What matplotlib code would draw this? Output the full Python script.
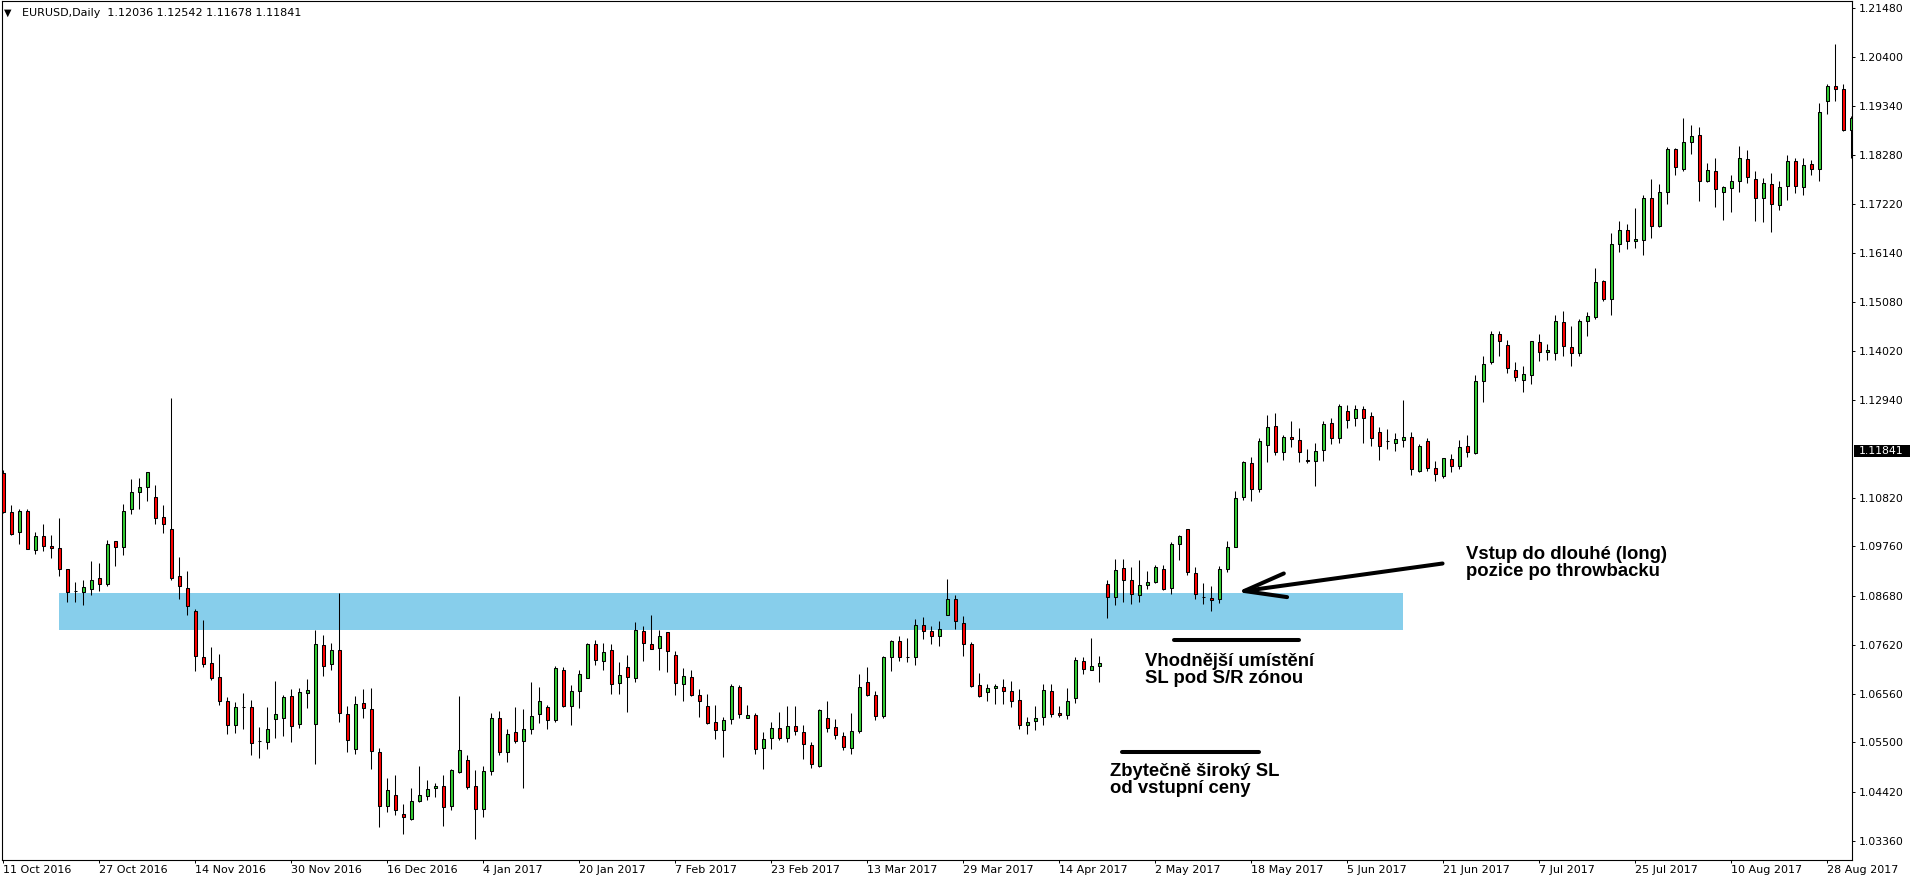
import matplotlib
matplotlib.use('Agg')
import matplotlib.pyplot as plt
from matplotlib.patches import Rectangle
from matplotlib.transforms import blended_transform_factory

# Denni svicky EURUSD (open, high, low, close)
opens = [
    1.1135, 1.1052, 1.1008, 1.1054, 1.0968, 1.0998, 1.0978, 1.0972, 1.0926, 1.0880,
    1.0876, 1.0884, 1.0907, 1.0895, 1.0987, 1.0974, 1.1057, 1.1094, 1.1105, 1.1083,
    1.1041, 1.1015, 1.0911, 1.0885, 1.0836, 1.0735, 1.0722, 1.0693, 1.0640, 1.0588,
    1.0626, 1.0626, 1.0552, 1.0550, 1.0600, 1.0602, 1.0650, 1.0589, 1.0657, 1.0589,
    1.0761, 1.0720, 1.0750, 1.0611, 1.0535, 1.0635, 1.0622, 1.0529, 1.0411, 1.0435,
    1.0394, 1.0383, 1.0422, 1.0433, 1.0450, 1.0455, 1.0411, 1.0485, 1.0511, 1.0455,
    1.0405, 1.0487, 1.0602, 1.0528, 1.0572, 1.0552, 1.0578, 1.0611, 1.0626, 1.0598,
    1.0708, 1.0628, 1.0661, 1.0691, 1.0763, 1.0726, 1.0750, 1.0680, 1.0713, 1.0691,
    1.0793, 1.0765, 1.0756, 1.0789, 1.0741, 1.0676, 1.0693, 1.0654, 1.0630, 1.0595,
    1.0576, 1.0600, 1.0670, 1.0604, 1.0609, 1.0537, 1.0559, 1.0581, 1.0559, 1.0585,
    1.0572, 1.0544, 1.0498, 1.0602, 1.0583, 1.0563, 1.0537, 1.0574, 1.0681, 1.0652,
    1.0607, 1.0735, 1.0770, 1.0736, 1.0735, 1.0805, 1.0792, 1.0781, 1.0826, 1.0861,
    1.0809, 1.0763, 1.0674, 1.0659, 1.0668, 1.0670, 1.0661, 1.0643, 1.0587, 1.0596,
    1.0605, 1.0661, 1.0613, 1.0609, 1.0646, 1.0726, 1.0707, 1.0716, 1.0894, 1.0866,
    1.0929, 1.0903, 1.0870, 1.0892, 1.0898, 1.0927, 1.0885, 1.0981, 1.1014, 1.0918,
    1.0867, 1.0865, 1.0861, 1.0928, 1.0974, 1.1083, 1.1157, 1.1100, 1.1196, 1.1239,
    1.1181, 1.1215, 1.1207, 1.1165, 1.1163, 1.1185, 1.1244, 1.1213, 1.1270, 1.1255,
    1.1276, 1.1259, 1.1224, 1.1205, 1.1202, 1.1207, 1.1215, 1.1141, 1.1205, 1.1146,
    1.1129, 1.1166, 1.1150, 1.1194, 1.1179, 1.1335, 1.1377, 1.1438, 1.1414, 1.1359,
    1.1338, 1.1348, 1.1420, 1.1398, 1.1396, 1.1464, 1.1409, 1.1396, 1.1466, 1.1475,
    1.1553, 1.1514, 1.1634, 1.1664, 1.1641, 1.1642, 1.1733, 1.1674, 1.1748, 1.1840,
    1.1798, 1.1855, 1.1870, 1.1772, 1.1792, 1.1748, 1.1755, 1.1770, 1.1818, 1.1775,
    1.1733, 1.1764, 1.1718, 1.1759, 1.1814, 1.1757, 1.1807, 1.1798, 1.1944, 1.1977,
    1.1970, 1.1881,
]
highs = [
    1.1142, 1.1066, 1.1057, 1.1057, 1.1007, 1.1024, 1.1002, 1.1037, 1.0928, 1.0899,
    1.0903, 1.0944, 1.0940, 1.0990, 1.0987, 1.1068, 1.1123, 1.1125, 1.1137, 1.1109,
    1.1066, 1.1298, 1.0953, 1.0922, 1.0839, 1.0816, 1.0757, 1.0743, 1.0648, 1.0637,
    1.0658, 1.0642, 1.0584, 1.0627, 1.0684, 1.0653, 1.0666, 1.0668, 1.0688, 1.0795,
    1.0784, 1.0766, 1.0875, 1.0629, 1.0650, 1.0666, 1.0668, 1.0537, 1.0472, 1.0479,
    1.0416, 1.0450, 1.0498, 1.0468, 1.0461, 1.0479, 1.0492, 1.0650, 1.0522, 1.0490,
    1.0498, 1.0613, 1.0619, 1.0580, 1.0626, 1.0622, 1.0682, 1.0671, 1.0632, 1.0717,
    1.0713, 1.0674, 1.0708, 1.0767, 1.0772, 1.0767, 1.0763, 1.0724, 1.0739, 1.0811,
    1.0804, 1.0826, 1.0795, 1.0789, 1.0748, 1.0711, 1.0708, 1.0665, 1.0656, 1.0632,
    1.0606, 1.0678, 1.0674, 1.0631, 1.0613, 1.0572, 1.0594, 1.0615, 1.0628, 1.0628,
    1.0587, 1.0550, 1.0622, 1.0639, 1.0600, 1.0572, 1.0613, 1.0698, 1.0713, 1.0661,
    1.0737, 1.0772, 1.0781, 1.0776, 1.0818, 1.0822, 1.0802, 1.0815, 1.0905, 1.0870,
    1.0824, 1.0768, 1.0700, 1.0678, 1.0678, 1.0687, 1.0683, 1.0665, 1.0605, 1.0628,
    1.0676, 1.0676, 1.0628, 1.0668, 1.0735, 1.0735, 1.0776, 1.0737, 1.0903, 1.0948,
    1.0948, 1.0931, 1.0946, 1.0922, 1.0935, 1.0935, 1.0985, 1.1002, 1.1014, 1.0931,
    1.0896, 1.0891, 1.0933, 1.0987, 1.1096, 1.1161, 1.1170, 1.1211, 1.1261, 1.1266,
    1.1218, 1.1248, 1.1233, 1.1187, 1.1202, 1.1250, 1.1255, 1.1285, 1.1283, 1.1283,
    1.1281, 1.1268, 1.1235, 1.1231, 1.1222, 1.1294, 1.1226, 1.1200, 1.1211, 1.1163,
    1.1168, 1.1177, 1.1207, 1.1218, 1.1348, 1.1390, 1.1444, 1.1444, 1.1425, 1.1377,
    1.1368, 1.1422, 1.1438, 1.1416, 1.1479, 1.1488, 1.1455, 1.1470, 1.1485, 1.1581,
    1.1555, 1.1658, 1.1683, 1.1678, 1.1712, 1.1740, 1.1775, 1.1764, 1.1844, 1.1842,
    1.1909, 1.1892, 1.1888, 1.1811, 1.1822, 1.1761, 1.1783, 1.1846, 1.1838, 1.1792,
    1.1777, 1.1788, 1.1772, 1.1827, 1.1822, 1.1822, 1.1816, 1.1940, 1.1983, 1.2068,
    1.1983, 1.1912,
]
lows = [
    1.1048, 1.1001, 1.0982, 1.0970, 1.0960, 1.0967, 1.0952, 1.0912, 1.0856, 1.0856,
    1.0849, 1.0871, 1.0880, 1.0891, 1.0934, 1.0958, 1.1047, 1.1058, 1.1076, 1.1025,
    1.1005, 1.0903, 1.0862, 1.0828, 1.0706, 1.0713, 1.0686, 1.0632, 1.0569, 1.0570,
    1.0580, 1.0523, 1.0515, 1.0536, 1.0560, 1.0563, 1.0550, 1.0582, 1.0624, 1.0504,
    1.0695, 1.0708, 1.0595, 1.0528, 1.0524, 1.0602, 1.0493, 1.0365, 1.0398, 1.0391,
    1.0350, 1.0381, 1.0420, 1.0424, 1.0431, 1.0369, 1.0402, 1.0483, 1.0448, 1.0339,
    1.0387, 1.0478, 1.0522, 1.0508, 1.0548, 1.0451, 1.0569, 1.0593, 1.0578, 1.0595,
    1.0626, 1.0587, 1.0624, 1.0691, 1.0719, 1.0708, 1.0656, 1.0656, 1.0617, 1.0682,
    1.0726, 1.0754, 1.0708, 1.0704, 1.0654, 1.0639, 1.0650, 1.0606, 1.0591, 1.0558,
    1.0519, 1.0589, 1.0604, 1.0602, 1.0524, 1.0491, 1.0535, 1.0555, 1.0550, 1.0565,
    1.0513, 1.0494, 1.0496, 1.0572, 1.0557, 1.0533, 1.0524, 1.0570, 1.0650, 1.0598,
    1.0602, 1.0705, 1.0726, 1.0724, 1.0718, 1.0774, 1.0765, 1.0759, 1.0826, 1.0796,
    1.0737, 1.0670, 1.0648, 1.0641, 1.0633, 1.0633, 1.0626, 1.0578, 1.0568, 1.0576,
    1.0587, 1.0605, 1.0605, 1.0600, 1.0635, 1.0698, 1.0707, 1.0681, 1.0820, 1.0848,
    1.0855, 1.0850, 1.0855, 1.0883, 1.0896, 1.0881, 1.0872, 1.0946, 1.0913, 1.0861,
    1.0850, 1.0836, 1.0854, 1.0920, 1.0974, 1.1078, 1.1074, 1.1094, 1.1159, 1.1174,
    1.1165, 1.1192, 1.1159, 1.1158, 1.1107, 1.1163, 1.1200, 1.1202, 1.1233, 1.1239,
    1.1202, 1.1194, 1.1165, 1.1189, 1.1183, 1.1192, 1.1131, 1.1137, 1.1141, 1.1118,
    1.1126, 1.1137, 1.1144, 1.1170, 1.1177, 1.1290, 1.1372, 1.1390, 1.1353, 1.1335,
    1.1311, 1.1329, 1.1379, 1.1381, 1.1381, 1.1390, 1.1368, 1.1390, 1.1433, 1.1470,
    1.1509, 1.1479, 1.1617, 1.1622, 1.1625, 1.1611, 1.1648, 1.1670, 1.1722, 1.1783,
    1.1792, 1.1829, 1.1727, 1.1768, 1.1714, 1.1687, 1.1703, 1.1746, 1.1767, 1.1685,
    1.1681, 1.1661, 1.1707, 1.1729, 1.1744, 1.1740, 1.1783, 1.1772, 1.1916, 1.1944,
    1.1879, 1.1822,
]
closes = [
    1.1052, 1.1004, 1.1054, 1.0970, 1.0998, 1.0978, 1.0972, 1.0926, 1.0878, 1.0880,
    1.0887, 1.0904, 1.0894, 1.0981, 1.0974, 1.1054, 1.1094, 1.1105, 1.1137, 1.1039,
    1.1024, 1.0907, 1.0891, 1.0846, 1.0737, 1.0720, 1.0689, 1.0640, 1.0588, 1.0626,
    1.0626, 1.0548, 1.0552, 1.0578, 1.0611, 1.0648, 1.0585, 1.0659, 1.0663, 1.0764,
    1.0716, 1.0750, 1.0613, 1.0555, 1.0633, 1.0624, 1.0531, 1.0411, 1.0446, 1.0403,
    1.0387, 1.0422, 1.0435, 1.0448, 1.0455, 1.0409, 1.0490, 1.0533, 1.0453, 1.0405,
    1.0487, 1.0604, 1.0530, 1.0569, 1.0552, 1.0580, 1.0608, 1.0639, 1.0598, 1.0711,
    1.0628, 1.0661, 1.0698, 1.0763, 1.0730, 1.0746, 1.0678, 1.0696, 1.0693, 1.0795,
    1.0767, 1.0754, 1.0782, 1.0748, 1.0680, 1.0695, 1.0654, 1.0639, 1.0593, 1.0576,
    1.0598, 1.0672, 1.0611, 1.0609, 1.0535, 1.0557, 1.0581, 1.0559, 1.0585, 1.0574,
    1.0546, 1.0504, 1.0620, 1.0581, 1.0565, 1.0539, 1.0574, 1.0670, 1.0652, 1.0607,
    1.0735, 1.0770, 1.0735, 1.0736, 1.0805, 1.0792, 1.0781, 1.0796, 1.0861, 1.0813,
    1.0763, 1.0672, 1.0650, 1.0668, 1.0672, 1.0661, 1.0641, 1.0587, 1.0594, 1.0602,
    1.0663, 1.0611, 1.0609, 1.0641, 1.0729, 1.0709, 1.0716, 1.0722, 1.0866, 1.0924,
    1.0903, 1.0872, 1.0892, 1.0898, 1.0931, 1.0883, 1.0981, 1.0998, 1.0920, 1.0872,
    1.0867, 1.0859, 1.0928, 1.0974, 1.1081, 1.1159, 1.1100, 1.1205, 1.1235, 1.1181,
    1.1215, 1.1209, 1.1181, 1.1161, 1.1183, 1.1242, 1.1211, 1.1281, 1.1252, 1.1276,
    1.1255, 1.1211, 1.1194, 1.1205, 1.1209, 1.1215, 1.1144, 1.1194, 1.1146, 1.1133,
    1.1168, 1.1150, 1.1192, 1.1181, 1.1335, 1.1374, 1.1438, 1.1422, 1.1364, 1.1344,
    1.1351, 1.1422, 1.1398, 1.1403, 1.1466, 1.1411, 1.1396, 1.1466, 1.1477, 1.1551,
    1.1514, 1.1634, 1.1664, 1.1641, 1.1645, 1.1733, 1.1674, 1.1746, 1.1840, 1.1801,
    1.1855, 1.1868, 1.1770, 1.1794, 1.1753, 1.1757, 1.1772, 1.1820, 1.1779, 1.1733,
    1.1766, 1.1722, 1.1757, 1.1814, 1.1759, 1.1805, 1.1798, 1.1920, 1.1977, 1.1970,
    1.1881, 1.1907,
]

date_labels = ['11 Oct 2016', '27 Oct 2016', '14 Nov 2016', '30 Nov 2016', '16 Dec 2016',
               '4 Jan 2017', '20 Jan 2017', '7 Feb 2017', '23 Feb 2017', '13 Mar 2017',
               '29 Mar 2017', '14 Apr 2017', '2 May 2017', '18 May 2017', '5 Jun 2017',
               '21 Jun 2017', '7 Jul 2017', '25 Jul 2017', '10 Aug 2017', '28 Aug 2017']
price_labels = ['1.21480', '1.20400', '1.19340', '1.18280', '1.17220', '1.16140',
                '1.15080', '1.14020', '1.12940', '1.10820', '1.09760', '1.08680',
                '1.07620', '1.06560', '1.05500', '1.04420', '1.03360']

# S/R zona a aktualni cena
zone_low, zone_high = 1.0795, 1.0875
last_price = 1.11841
title_text = 'EURUSD,Daily  1.12036 1.12542 1.11678 1.11841'

green = '#32CD32'
red = '#FF0000'

fig = plt.figure(figsize=(19.16, 8.84), dpi=100)
ax = fig.add_axes([2 / 1916, 24 / 884, 1850 / 1916, 859 / 884])

n = len(opens)
x = list(range(n))

# S/R zona (svetle modra)
ax.add_patch(Rectangle((6.95, zone_low), 168.0, zone_high - zone_low,
                       facecolor='#87CEEB', edgecolor='none', zorder=1))

# knoty
ax.vlines(x, lows, highs, color='black', linewidth=0.75, zorder=2)

# tela svicek
bottoms = [min(o, c) for o, c in zip(opens, closes)]
heights = [abs(c - o) for o, c in zip(opens, closes)]
colors = [green if c > o else red for o, c in zip(opens, closes)]
ax.bar(x, heights, bottom=bottoms, width=0.44, color=colors,
       edgecolor='black', linewidth=0.75, zorder=3)

ax.set_xlim(-0.166, 231.08)
ax.set_ylim(1.029413, 1.216245)

# osa cen vpravo
ax.yaxis.tick_right()
ax.set_yticks([float(s) for s in price_labels])
ax.set_yticklabels(price_labels)
ax.tick_params(axis='y', direction='out', length=2.2, width=0.7, pad=2.9,
               labelsize=7.8, colors='black')

# osa datumu
ax.set_xticks(list(range(0, n, 12)))
ax.set_xticklabels(date_labels, ha='left')
ax.tick_params(axis='x', direction='out', length=2.2, width=0.7, pad=1.5,
               labelsize=8, colors='black')

for s in ax.spines.values():
    s.set_color('black')
    s.set_linewidth(0.8)

# aktualni cena - cerny stitek
tr = blended_transform_factory(ax.transAxes, ax.transData)
ax.add_patch(Rectangle((1.0011, last_price - 0.0013), 0.0303, 0.0026,
                       transform=tr, facecolor='black', edgecolor='none',
                       clip_on=False, zorder=5))
ax.text(1.0038, last_price, '1.11841', transform=tr, color='white',
        fontsize=7.8, ha='left', va='center', zorder=6)

# titulek vlevo nahore
fig.text(3.5 / 1916, 1 - 13 / 884, '\u25BC', fontsize=7, va='center', ha='left')
fig.text(21.5 / 1916, 1 - 13 / 884, title_text, fontsize=8, va='center', ha='left')

# sipka ke vstupu
ax.annotate('', xy=(154.2, 1.0877), xytext=(179.9, 1.0939),
            arrowprops=dict(arrowstyle='->,head_length=1.5,head_width=0.43',
                            mutation_scale=20, lw=2.9, color='black',
                            shrinkA=0, shrinkB=0), zorder=6)

# cary pro SL
ax.plot([146.3, 161.9], [1.0773, 1.0773], color='black', lw=2.9,
        solid_capstyle='round', zorder=6)
ax.plot([139.8, 156.9], [1.0529, 1.0529], color='black', lw=2.9,
        solid_capstyle='round', zorder=6)

txt = dict(fontfamily='Liberation Sans', fontweight='bold', fontsize=13.3,
           color='black', ha='left', va='center', linespacing=1.05, zorder=7)
ax.text(182.8, 1.0940, 'Vstup do dlouhé (long)\npozice po throwbacku', **txt)
ax.text(142.7, 1.0707, 'Vhodnější umístění\nSL pod S/R zónou', **txt)
ax.text(138.3, 1.0468, 'Zbytečně široký SL\nod vstupní ceny', **txt)

fig.savefig('out.png', dpi=100, facecolor='white')
